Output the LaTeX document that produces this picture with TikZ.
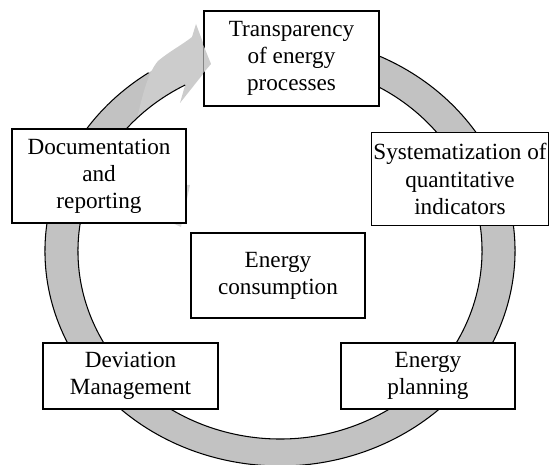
\documentclass[tikz,border=0pt]{standalone}
\usepackage{fontspec}
\setmainfont{Liberation Serif}
\usetikzlibrary{calc}

\begin{document}
\begin{tikzpicture}[x=0.02cm,y=0.02cm,
    stage/.style={draw,line width=0.6pt,fill=white,align=center,inner sep=1pt,
      font=\fontsize{13.2}{15.4}\selectfont},
    ringline/.style={line width=0.6pt}]
  \useasboundingbox (0,0) rectangle (549,465);
  \coordinate (O) at (280,214);
  \fill[black!24] (O) ++(80:235 and 215) arc[start angle=80,end angle=-238,x radius=235,y radius=215]
    -- ($(O)+(-238:202 and 188)$) arc[start angle=-238,end angle=80,x radius=202,y radius=188] -- cycle;
  \fill[black!20] ($(O)+(-242:202 and 188)$) arc[start angle=-242,end angle=-225,x radius=202,y radius=188]
    .. controls (143,372) and (148,392) .. (158,404)
    .. controls (170,414) and (182,420) .. (192,428)
    -- (196,441) -- (211,401) -- (180,362) -- cycle;
  \draw[ringline] (O) ++(80:235 and 215) arc[start angle=80,end angle=-236,x radius=235,y radius=215];
  \draw[ringline] (O) ++(-242:202 and 188) arc[start angle=-242,end angle=80,x radius=202,y radius=188];
  \fill[black!16] (170,243) -- (181,238) -- (190,280) -- (150,280) -- cycle;

  \node[stage,minimum width=3.5cm,minimum height=1.9cm] (trans) at (291.5,406.5)
    {Transparency\\of energy\\processes};
  \node[stage,minimum width=3.48cm,minimum height=1.86cm] (syst) at (460,286)
    {Systematization of\\quantitative\\indicators};
  \node[stage,minimum width=3.48cm,minimum height=1.32cm] (plan) at (428,89)
    {Energy\\planning};
  \node[stage,minimum width=3.5cm,minimum height=1.32cm] (dev) at (130.5,89)
    {Deviation\\Management};
  \node[stage,minimum width=3.48cm,minimum height=1.88cm] (doc) at (99,289)
    {Documentation\\and\\reporting};
  \node[stage,line width=1.2pt,minimum width=3.48cm,minimum height=1.7cm] (cons) at (278,189.5)
    {Energy\\consumption};

  \fill[black!20] (trans.west |- 0,419.7) -- (211,401) -- (trans.west |- 0,392.2) -- cycle;
\end{tikzpicture}
\end{document}
